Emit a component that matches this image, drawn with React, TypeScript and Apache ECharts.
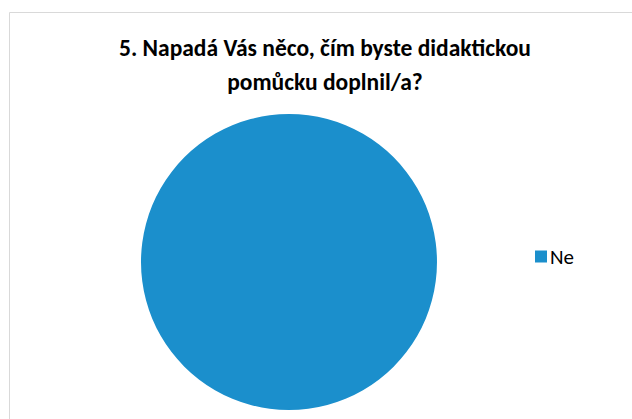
import React, { useEffect, useRef } from "react";
import * as echarts from "echarts";

const categories = ["Ne"];
const values = [100];
const titleText = "5. Napadá Vás něco, čím byste didaktickou\npomůcku doplnil/a?";

export default function App() {
  const ref = useRef<HTMLDivElement>(null);
  useEffect(() => {
    if (!ref.current) return;
    const chart = echarts.init(ref.current, null, { renderer: "svg" });
    chart.setOption({
      animation: false,
      backgroundColor: "#ffffff",
      title: {
        text: titleText,
        left: 320,
        textAlign: "center",
        top: 26,
        textStyle: {
          fontFamily: "Carlito, 'Liberation Sans Narrow', 'Noto Sans', sans-serif",
          fontWeight: "bold",
          fontSize: 23.5,
          lineHeight: 34,
          color: "#000000",
        },
      },
      legend: {
        orient: "vertical",
        left: 530,
        top: 241,
        itemWidth: 12,
        itemHeight: 12,
        itemGap: 6,
        icon: "rect",
        data: categories,
        textStyle: {
          fontFamily: "Carlito, 'Liberation Sans Narrow', 'Noto Sans', sans-serif",
          fontSize: 21,
          color: "#000000",
          padding: [0, 0, 0, -2],
        },
      },
      graphic: [
        {
          type: "rect",
          shape: { x: 9.5, y: 12.5, width: 800, height: 600 },
          style: { fill: "none", stroke: "#d9d9d9", lineWidth: 1 },
          silent: true,
          z: -1,
        },
      ],
      series: [
        {
          type: "pie",
          center: [289, 262],
          radius: [0, 148],
          startAngle: 90,
          label: { show: false },
          labelLine: { show: false },
          emphasis: { disabled: true },
          itemStyle: { color: "#1b8fcc", borderWidth: 0 },
          data: categories.map((c, i) => ({ name: c, value: values[i] })),
        },
      ],
    });
    return () => chart.dispose();
  }, []);
  return (
    <div
      ref={ref}
      style={{ position: "absolute", left: 0, top: 0, width: 632, height: 419 }}
    />
  );
}
